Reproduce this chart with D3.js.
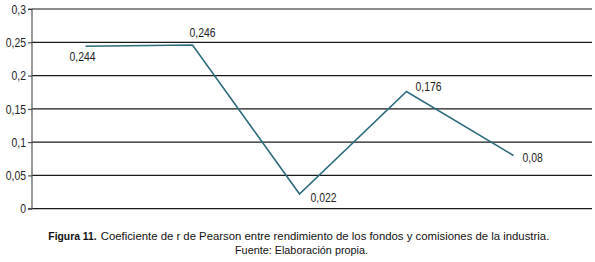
<!DOCTYPE html>
<html><head><meta charset="utf-8">
<script src="https://cdn.jsdelivr.net/npm/d3@7"></script>
<style>
html,body{margin:0;padding:0;background:#fff;}
svg{display:block;}
text{font-family:"Liberation Sans Narrow","Liberation Sans",Arial,sans-serif;}
</style></head>
<body>
<svg id="c" width="595" height="262"></svg>
<script>
const categories = ["1","2","3","4","5"];
const values = [0.244, 0.246, 0.022, 0.176, 0.08];
const valueLabels = ["0,244","0,246","0,022","0,176","0,08"];
const yTicks = [0, 0.05, 0.1, 0.15, 0.2, 0.25, 0.3];
const yTickLabels = ["0","0,05","0,1","0,15","0,2","0,25","0,3"];
const captionBold = "Figura 11.";
const captionRest = "Coeficiente de r de Pearson entre rendimiento de los fondos y comisiones de la industria.";
const captionSource = "Fuente: Elaboración propia.";

const svg = d3.select("#c");
const x0 = 32, xEnd = 567, gridEnd = 592;
const x = d3.scaleBand().domain(categories).range([x0, xEnd]);
const y = d3.scaleLinear().domain([0, 0.3]).range([208.7, 9]);

function narrow(sel, k) {
  sel.each(function() {
    const w = this.getComputedTextLength();
    d3.select(this).attr("textLength", w * k).attr("lengthAdjust", "spacingAndGlyphs");
  });
}

// gridlines
svg.append("g").selectAll("line").data(yTicks).join("line")
  .attr("x1", x0).attr("x2", gridEnd)
  .attr("y1", d => y(d)).attr("y2", d => y(d))
  .attr("stroke", "#1a1a1a").attr("stroke-width", 1.2);

// y axis
const yAxis = d3.axisLeft(y).tickValues(yTicks).tickSize(4)
  .tickFormat((d,i) => yTickLabels[i]);
const ga = svg.append("g").attr("transform", `translate(${x0},0)`).call(yAxis);
ga.select(".domain").attr("stroke", "#555").attr("stroke-width", 1.2).attr("d", `M-4,${y(0.3)}H0V${y(0)}H-4`);
ga.selectAll(".tick line").attr("stroke", "#333");
ga.selectAll(".tick text").attr("font-size", 13).attr("fill", "#222")
  .attr("font-family", '"Liberation Sans Narrow","Liberation Sans",Arial,sans-serif')
  .attr("x", -6).call(narrow, 0.8);

// line
const cx = d => x(d) + x.bandwidth()/2;
svg.append("path").datum(values)
  .attr("fill", "none").attr("stroke", "#2b6b7c").attr("stroke-width", 1.6)
  .attr("d", d3.line().x((d,i) => cx(categories[i])).y(d => y(d)));

// value labels
const offs = [[-3,15,"middle"],[-3,-8,"start"],[11,8,"start"],[9,-1,"start"],[9,7,"start"]];
svg.append("g").selectAll("text").data(values).join("text")
  .attr("x", (d,i) => cx(categories[i]) + offs[i][0])
  .attr("y", (d,i) => y(d) + offs[i][1])
  .attr("text-anchor", (d,i) => offs[i][2])
  .attr("font-size", 13).attr("fill", "#222")
  .text((d,i) => valueLabels[i]).call(narrow, 0.8);

// caption
const capFont = '"Open Sans","Noto Sans",sans-serif';
svg.append("text").attr("x", 48.3).attr("y", 240).attr("font-family", capFont)
  .attr("font-size", 11.5).attr("font-weight", "bold").attr("fill", "#111")
  .attr("textLength", 48.4).attr("lengthAdjust", "spacingAndGlyphs")
  .text(captionBold);
svg.append("text").attr("x", 100.7).attr("y", 240).attr("font-family", capFont)
  .attr("font-size", 11.5).attr("fill", "#111")
  .attr("textLength", 448.6).attr("lengthAdjust", "spacingAndGlyphs")
  .text(captionRest);
svg.append("text").attr("x", 235).attr("y", 253.5).attr("font-family", capFont)
  .attr("font-size", 11.5).attr("fill", "#111")
  .attr("textLength", 133).attr("lengthAdjust", "spacingAndGlyphs")
  .text(captionSource);
</script>
</body></html>
